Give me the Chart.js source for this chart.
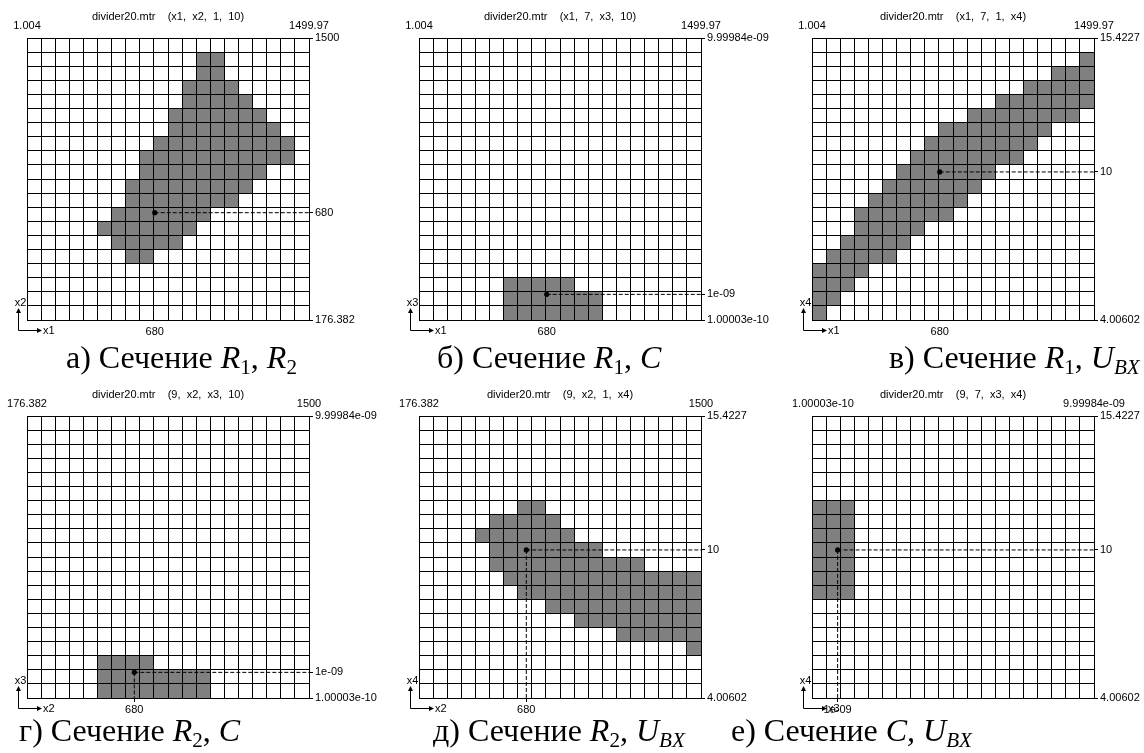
<!DOCTYPE html>
<html>
<head>
<meta charset="utf-8">
<script src="https://cdn.jsdelivr.net/npm/chart.js@4.4.0/dist/chart.umd.min.js"></script>
<style>
  body { margin: 0; background: #fff; width: 1144px; height: 753px; overflow: hidden; position: relative; }
  canvas { position: absolute; }
  .cap { position: absolute; font-family: "Liberation Serif", serif; font-size: 32px; line-height: 32px; white-space: nowrap; color: #000; }
  .cap sub { font-size: 66%; vertical-align: baseline; position: relative; top: 0.28em; }
</style>
</head>
<body>
<canvas id="p0" width="384" height="344"></canvas>
<canvas id="p1" width="384" height="344"></canvas>
<canvas id="p2" width="384" height="344"></canvas>
<canvas id="p3" width="384" height="344"></canvas>
<canvas id="p4" width="384" height="344"></canvas>
<canvas id="p5" width="384" height="344"></canvas>

<div class="cap" style="left:66px;top:341px">а) Сечение <i>R</i><sub>1</sub>, <i>R</i><sub>2</sub></div>
<div class="cap" style="left:437px;top:341px">б) Сечение <i>R</i><sub>1</sub>, <i>C</i></div>
<div class="cap" style="left:889px;top:341px">в) Сечение <i>R</i><sub>1</sub>, <i>U<sub>BX</sub></i></div>
<div class="cap" style="left:19px;top:714px">г) Сечение <i>R</i><sub>2</sub>, <i>C</i></div>
<div class="cap" style="left:433px;top:714px">д) Сечение <i>R</i><sub>2</sub>, <i>U<sub>BX</sub></i></div>
<div class="cap" style="left:731px;top:714px">е) Сечение <i>C,</i> <i>U<sub>BX</sub></i></div>

<script>
// six sections of the 4-parameter tolerance region, 20 x 20 cells each
const gridSize = 20;

const titles = [
  'divider20.mtr    (x1,  x2,  1,  10)',
  'divider20.mtr    (x1,  7,  x3,  10)',
  'divider20.mtr    (x1,  7,  1,  x4)',
  'divider20.mtr    (9,  x2,  x3,  10)',
  'divider20.mtr    (9,  x2,  1,  x4)',
  'divider20.mtr    (9,  7,  x3,  x4)'
];

const xRanges = [[1.004, 1499.97], [1.004, 1499.97], [1.004, 1499.97],
                 [176.382, 1500], [176.382, 1500], [1.00003e-10, 9.99984e-09]];
const yRanges = [[176.382, 1500], [1.00003e-10, 9.99984e-09], [4.00602, 15.4227],
                 [1.00003e-10, 9.99984e-09], [4.00602, 15.4227], [4.00602, 15.4227]];

const xRangeLabels = [['1.004', '1499.97'], ['1.004', '1499.97'], ['1.004', '1499.97'],
                      ['176.382', '1500'], ['176.382', '1500'], ['1.00003e-10', '9.99984e-09']];
const yRangeLabels = [['176.382', '1500'], ['1.00003e-10', '9.99984e-09'], ['4.00602', '15.4227'],
                      ['1.00003e-10', '9.99984e-09'], ['4.00602', '15.4227'], ['4.00602', '15.4227']];

// nominal point of each section
const points = [[680, 680], [680, 1e-9], [680, 10], [680, 1e-9], [680, 10], [1e-9, 10]];
const pointLabels = [['680', '680'], ['680', '1e-09'], ['680', '10'],
                     ['680', '1e-09'], ['680', '10'], ['1e-09', '10']];
// vertical drop line from the point is only visible in the lower row
const dropLines = [false, false, false, true, true, true];

const axisNames = [['x1', 'x2'], ['x1', 'x3'], ['x1', 'x4'], ['x2', 'x3'], ['x2', 'x4'], ['x3', 'x4']];

// filled cells: [row counted from top, first column, last column]
const cells = [
  [[1,12,13],[2,12,13],[3,11,14],[4,11,15],[5,10,16],[6,10,17],[7,9,18],[8,8,18],
   [9,8,16],[10,7,15],[11,7,14],[12,6,12],[13,5,11],[14,6,10],[15,7,8]],
  [[17,6,10],[18,6,12],[19,6,12]],
  [[1,19,19],[2,17,19],[3,15,19],[4,13,19],[5,11,18],[6,9,16],[7,8,15],[8,7,14],
   [9,6,12],[10,5,11],[11,4,10],[12,3,9],[13,3,7],[14,2,6],[15,1,5],[16,0,3],
   [17,0,2],[18,0,1],[19,0,0]],
  [[17,5,8],[18,5,12],[19,5,12]],
  [[6,7,8],[7,5,9],[8,4,10],[9,5,12],[10,5,15],[11,6,19],[12,7,19],[13,9,19],
   [14,11,19],[15,14,19],[16,19,19]],
  [[6,0,2],[7,0,2],[8,0,2],[9,0,2],[10,0,2],[11,0,2],[12,0,2]]
];

// where each grid sits on the page
const gridOrigins = [[27, 38], [419, 38], [812, 38], [27, 416], [419, 416], [812, 416]];
const padLeft = 27, padTop = 40;

const smallFont = { family: 'Liberation Sans', size: 11, weight: 'normal' };

function gridTicks(lo, hi) {
  const out = [];
  for (let i = 0; i <= gridSize; i++) out.push({ value: lo + (hi - lo) * i / gridSize });
  return out;
}

const panelDecor = {
  id: 'panelDecor',
  beforeDraw(chart, args, opts) {
    const p = opts.panel;
    const xs = chart.scales.x, ys = chart.scales.y;
    const sx = (xs.max - xs.min) / gridSize, sy = (ys.max - ys.min) / gridSize;
    const ctx = chart.ctx;
    ctx.save();
    ctx.fillStyle = '#808080';
    cells[p].forEach(([r, c0, c1]) => {
      const x0 = xs.getPixelForValue(xs.min + c0 * sx);
      const x1 = xs.getPixelForValue(xs.min + (c1 + 1) * sx);
      const y0 = ys.getPixelForValue(ys.max - r * sy);
      const y1 = ys.getPixelForValue(ys.max - (r + 1) * sy);
      ctx.fillRect(x0, y0, x1 - x0, y1 - y0);
    });
    ctx.restore();
  },
  afterDraw(chart, args, opts) {
    const p = opts.panel;
    const a = chart.chartArea;
    const ctx = chart.ctx;
    ctx.save();
    ctx.font = '11px "Liberation Sans"';
    ctx.fillStyle = '#000';
    ctx.strokeStyle = '#000';
    ctx.lineWidth = 1;
    ctx.textBaseline = 'middle';
    // range of the horizontal parameter above the grid corners
    const [l0, l1] = xRangeLabels[p];
    const w0 = ctx.measureText(l0).width;
    ctx.textAlign = 'left';
    ctx.fillText(l0, Math.max(a.left - w0 / 2, a.left - 20), a.top - 12);
    ctx.textAlign = 'center';
    ctx.fillText(l1, a.right, a.top - 12);
    // axis direction marker
    const ax = Math.round(a.left - 9) + 0.5, ay = Math.round(a.bottom + 10) + 0.5;
    ctx.beginPath();
    ctx.moveTo(ax, a.bottom - 9);
    ctx.lineTo(ax, ay);
    ctx.lineTo(a.left + 11, ay);
    ctx.stroke();
    ctx.beginPath();
    ctx.moveTo(ax, a.bottom - 12); ctx.lineTo(ax - 2.5, a.bottom - 7); ctx.lineTo(ax + 2.5, a.bottom - 7);
    ctx.fill();
    ctx.beginPath();
    ctx.moveTo(a.left + 15, ay); ctx.lineTo(a.left + 10, ay - 2.5); ctx.lineTo(a.left + 10, ay + 2.5);
    ctx.fill();
    ctx.textAlign = 'left';
    ctx.fillText(axisNames[p][0], a.left + 16, ay);
    ctx.textAlign = 'center';
    ctx.fillText(axisNames[p][1], ax + 2, a.bottom - 17);
    ctx.restore();
  }
};

function makePanel(p) {
  const [x0, x1] = xRanges[p];
  const [y0, y1] = yRanges[p];
  const [px, py] = points[p];
  const [gl, gt] = gridOrigins[p];
  const canvas = document.getElementById('p' + p);
  canvas.style.left = (gl - padLeft) + 'px';
  canvas.style.top = (gt - padTop) + 'px';

  const dash = { showLine: true, borderColor: '#000', borderWidth: 1, borderDash: [4, 2],
                 pointRadius: 0, order: 1 };

  const datasets = [
    { data: [{ x: px, y: py }], pointRadius: 2.6, pointBackgroundColor: '#000',
      pointBorderWidth: 0, order: 0 },
    Object.assign({ data: [{ x: px, y: py }, { x: x1, y: py }] }, dash)
  ];
  if (dropLines[p]) {
    datasets.push(Object.assign({ data: [{ x: px, y: py }, { x: px, y: y0 }] }, dash));
  }

  new Chart(canvas, {
    type: 'scatter',
    data: { datasets },
    options: {
      responsive: false,
      animation: false,
      devicePixelRatio: 1,
      layout: { padding: { left: padLeft, top: 0, right: 0, bottom: 0 } },
      plugins: {
        legend: { display: false },
        tooltip: { enabled: false },
        title: {
          display: true, text: titles[p], fullSize: false, color: '#000',
          font: smallFont, padding: { top: 12.4, bottom: 14.4 }
        },
        panelDecor: { panel: p }
      },
      scales: {
        gx: {
          type: 'linear', position: 'bottom', min: x0, max: x1,
          afterBuildTicks: s => { s.ticks = gridTicks(x0, x1); },
          ticks: { display: false },
          grid: { color: '#000', lineWidth: 1, drawTicks: false },
          border: { display: true, color: '#000' },
          afterFit: s => { s.height = 0; s.paddingLeft = 0; s.paddingRight = 0; }
        },
        gy: {
          type: 'linear', position: 'left', min: y0, max: y1,
          afterBuildTicks: s => { s.ticks = gridTicks(y0, y1); },
          ticks: { display: false },
          grid: { color: '#000', lineWidth: 1, drawTicks: false },
          border: { display: true, color: '#000' },
          afterFit: s => { s.width = 0; s.paddingTop = 0; s.paddingBottom = 0; }
        },
        x: {
          type: 'linear', position: 'bottom', min: x0, max: x1,
          afterBuildTicks: s => { s.ticks = [{ value: px }]; },
          ticks: { callback: () => pointLabels[p][0], color: '#000', font: smallFont,
                   padding: 0, autoSkip: false, maxRotation: 0 },
          grid: { display: dropLines[p], drawOnChartArea: false, drawTicks: true, tickLength: 5,
                  tickColor: '#000', tickBorderDash: [4, 2] },
          border: { display: false },
          afterFit: s => { s.height = 22; s.paddingLeft = 0; s.paddingRight = 0; }
        },
        y: {
          type: 'linear', position: 'right', min: y0, max: y1,
          afterBuildTicks: s => { s.ticks = [{ value: y0 }, { value: py }, { value: y1 }]; },
          ticks: { callback: (v, i) => [yRangeLabels[p][0], pointLabels[p][1], yRangeLabels[p][1]][i],
                   color: '#000', font: smallFont, padding: 2, autoSkip: false },
          grid: { display: true, drawOnChartArea: false, drawTicks: true, tickLength: 4,
                  tickColor: '#000' },
          border: { display: false },
          afterFit: s => { s.width = 75; s.paddingTop = 0; s.paddingBottom = 0; }
        }
      }
    },
    plugins: [panelDecor]
  });
}

for (let p = 0; p < 6; p++) makePanel(p);
</script>
</body>
</html>
